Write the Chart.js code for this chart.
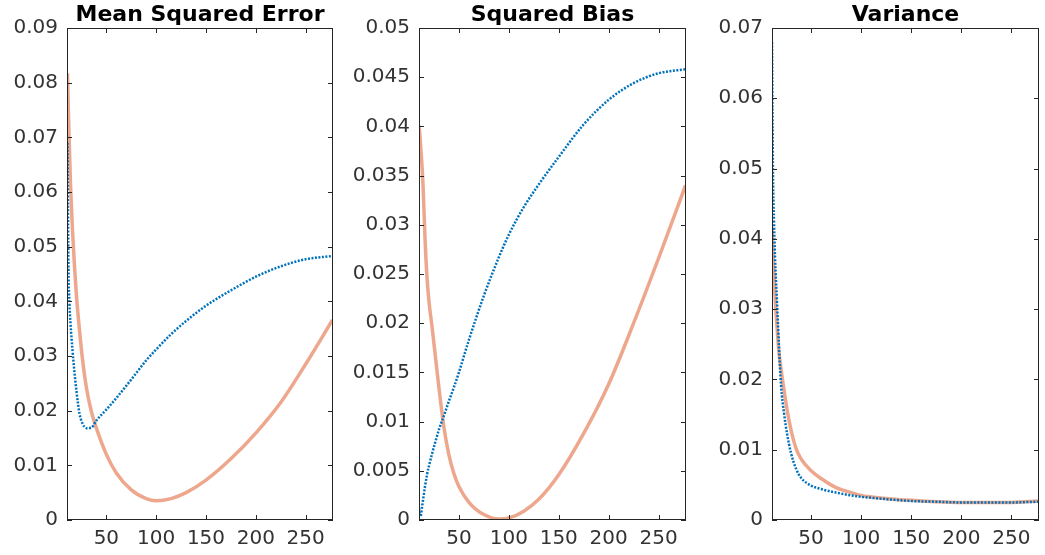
<!DOCTYPE html>
<html>
<head>
<meta charset="utf-8">
<script src="https://cdn.jsdelivr.net/npm/chart.js@4.4.1/dist/chart.umd.min.js"></script>
<style>
  body { margin: 0; background: #fff; }
  #wrap { position: relative; width: 1045px; height: 555px; overflow: hidden; }
  canvas { position: absolute; top: 0; }
</style>
</head>
<body>
<div id="wrap">
  <canvas id="mseChart" width="340" height="555" style="left:0px"></canvas>
  <canvas id="biasChart" width="345" height="555" style="left:345px"></canvas>
  <canvas id="varChart" width="350" height="555" style="left:695px"></canvas>
</div>
<script>
// tick labels
var xTicks = [50, 100, 150, 200, 250];
var mseTicks = [0, 0.01, 0.02, 0.03, 0.04, 0.05, 0.06, 0.07, 0.08, 0.09];
var biasTicks = [0, 0.005, 0.01, 0.015, 0.02, 0.025, 0.03, 0.035, 0.04, 0.045, 0.05];
var varTicks = [0, 0.01, 0.02, 0.03, 0.04, 0.05, 0.06, 0.07];

// Mean Squared Error
var mseX = [11, 12, 13, 14, 16, 18, 20, 23, 26, 30, 35, 40, 50, 60, 75, 90, 100, 115, 130, 150, 175, 200, 225, 250, 277];
var mseBlue = [0.069, 0.046, 0.0395, 0.036, 0.0311, 0.027, 0.0236, 0.0195, 0.0177, 0.0168, 0.0169, 0.0182, 0.0202, 0.0223, 0.0257,
               0.0292, 0.0312, 0.034, 0.0364, 0.0392, 0.042, 0.0445, 0.0464, 0.0477, 0.0483];
var mseOrange = [0.0817, 0.074, 0.0675, 0.0615, 0.053, 0.0465, 0.041, 0.0348, 0.0295, 0.0242, 0.0198, 0.0168, 0.012, 0.0086, 0.0055,
                 0.0039, 0.0035, 0.0039, 0.005, 0.0073, 0.0112, 0.0159, 0.0215, 0.0285, 0.0366];

// Squared Bias
var biasX = [10, 11, 12, 13, 14, 16, 18, 20, 23, 26, 30, 35, 40, 45, 50, 60, 75, 90, 100, 115, 130, 150, 175, 200, 225, 250, 277];
var biasBlue = [0.0012, 0.0003, 0.0005, 0.0013, 0.002, 0.0034, 0.0046, 0.0055, 0.0067, 0.0078, 0.0092, 0.0106, 0.0121, 0.0135, 0.015,
                0.0183, 0.0228, 0.0267, 0.029, 0.0318, 0.0341, 0.0369, 0.0402, 0.0427, 0.0444, 0.0454, 0.0458];
var biasOrange = [0.0401, 0.039, 0.0375, 0.036, 0.0341, 0.0287, 0.0247, 0.0222, 0.0197, 0.017, 0.0134, 0.0094, 0.0066, 0.0047, 0.0034,
                  0.0018, 0.00055, 0.0001, 0.0002, 0.0009, 0.0021, 0.0046, 0.0088, 0.0138, 0.02, 0.0266, 0.034];

// Variance
var varX = [11, 12, 13, 14, 16, 18, 20, 23, 26, 30, 35, 40, 50, 60, 75, 90, 100, 115, 130, 150, 175, 200, 225, 250, 277];
var varBlue = [0.068, 0.049, 0.0425, 0.0375, 0.031, 0.0246, 0.0192, 0.0152, 0.0123, 0.0095, 0.0073, 0.006, 0.0049, 0.0044, 0.0039,
               0.0035, 0.0033, 0.0031, 0.0029, 0.0027, 0.0026, 0.0025, 0.0025, 0.0025, 0.0026];
var varOrange = [0.0415, 0.038, 0.035, 0.032, 0.0275, 0.0238, 0.0215, 0.0185, 0.0157, 0.0128, 0.0102, 0.0087, 0.007, 0.0059, 0.0046,
                 0.0039, 0.0035, 0.0032, 0.003, 0.0028, 0.0026, 0.0025, 0.0025, 0.0025, 0.0027];

var axisColor = '#262626';

// box around the plot with inward ticks on all four sides
const boxTicks = {
    id: 'boxTicks',
    afterDatasetsDraw(chart) {
        const ctx = chart.ctx;
        const a = chart.chartArea;
        const x = chart.scales.x, y = chart.scales.y;
        const len = 5;
        ctx.save();
        ctx.strokeStyle = axisColor;
        ctx.lineWidth = 1;
        ctx.beginPath();
        x.ticks.forEach(t => {
            const px = Math.round(x.getPixelForValue(t.value)) + 0.5;
            ctx.moveTo(px, a.bottom); ctx.lineTo(px, a.bottom - len);
            ctx.moveTo(px, a.top); ctx.lineTo(px, a.top + len);
        });
        y.ticks.forEach(t => {
            const py = Math.round(y.getPixelForValue(t.value)) + 0.5;
            ctx.moveTo(a.left, py); ctx.lineTo(a.left + len, py);
            ctx.moveTo(a.right, py); ctx.lineTo(a.right - len, py);
        });
        ctx.stroke();
        ctx.strokeRect(Math.round(a.left) + 0.5, Math.round(a.top) + 0.5,
                       Math.round(a.right) - Math.round(a.left) - 1, Math.round(a.bottom) - Math.round(a.top) - 1);
        ctx.restore();
    }
};

function makePanel(id, title, blue, orange, xMin, yTicks, yMax, yWidth, padRight) {
    var ctx = document.getElementById(id).getContext('2d');
    return new Chart(ctx, {
        type: 'line',
        data: {
            datasets: [{
                data: blue,
                borderColor: '#0072BD',
                borderWidth: 2.5,
                borderDash: [2, 1.5],
                pointRadius: 0,
                cubicInterpolationMode: 'monotone',
                fill: false
            },
            {
                data: orange,
                borderColor: 'rgba(228, 120, 80, 0.65)',
                borderWidth: 3.5,
                pointRadius: 0,
                cubicInterpolationMode: 'monotone',
                fill: false
            }]
        },
        options: {
            responsive: false,
            animation: false,
            devicePixelRatio: 1,
            layout: { padding: { left: 0, right: padRight, top: 0, bottom: 0 } },
            plugins: {
                legend: { display: false },
                tooltip: { enabled: false },
                title: {
                    display: true,
                    text: title,
                    fullSize: false,
                    color: '#000',
                    font: { family: 'DejaVu Sans', size: 22, weight: 'bold' },
                    padding: { top: 1.6, bottom: 0 }
                }
            },
            scales: {
                x: {
                    type: 'linear',
                    min: xMin,
                    max: 277.5,
                    grid: { display: false, drawTicks: false },
                    border: { display: false },
                    afterBuildTicks: s => { s.ticks = xTicks.map(v => ({ value: v })); },
                    afterFit: s => { s.height = 35; },
                    ticks: {
                        padding: 7,
                        color: '#333',
                        font: { family: 'DejaVu Sans', size: 20 },
                        maxRotation: 0
                    }
                },
                y: {
                    min: 0,
                    max: yMax,
                    grid: { display: false, drawTicks: false },
                    border: { display: false },
                    afterBuildTicks: s => { s.ticks = yTicks.map(v => ({ value: v })); },
                    afterFit: s => { s.width = yWidth; },
                    ticks: {
                        padding: 9,
                        color: '#333',
                        font: { family: 'DejaVu Sans', size: 20 },
                        callback: v => String(parseFloat(Number(v).toFixed(4)))
                    }
                }
            }
        },
        plugins: [boxTicks]
    });
}

function toPoints(xs, ys) {
    return ys.map((v, i) => ({ x: xs[i], y: v }));
}

makePanel('mseChart', 'Mean Squared Error', toPoints(mseX, mseBlue), toPoints(mseX, mseOrange), 10.5, mseTicks, 0.09, 67, 7);
makePanel('biasChart', 'Squared Bias', toPoints(biasX, biasBlue), toPoints(biasX, biasOrange), 10, biasTicks, 0.05, 74, 4);
makePanel('varChart', 'Variance', toPoints(varX, varBlue), toPoints(varX, varOrange), 11, varTicks, 0.07, 77, 6);
</script>
</body>
</html>
